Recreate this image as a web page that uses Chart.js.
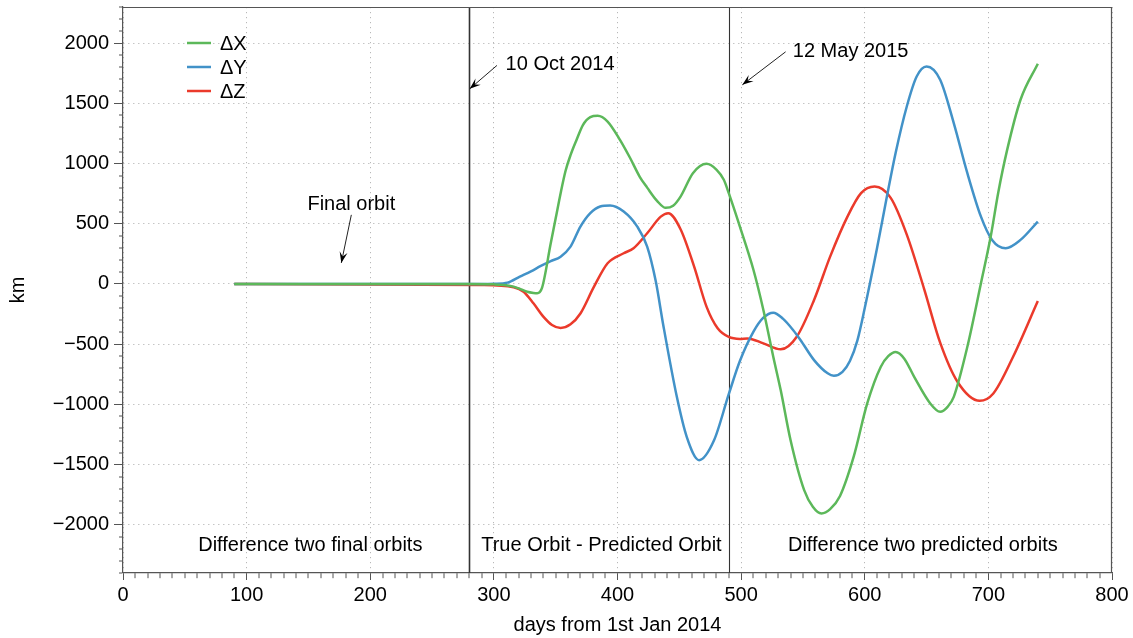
<!DOCTYPE html>
<html>
<head>
<meta charset="utf-8">
<script src="https://cdn.jsdelivr.net/npm/chart.js@4.4.0/dist/chart.umd.min.js"></script>
<style>
  html, body { margin: 0; padding: 0; background: #fff; }
</style>
</head>
<body>
<canvas id="orbitChart" width="1133" height="638"></canvas>
<script>
// days from 1st Jan 2014, values in km
const xDays = [90, 280, 300, 310, 316, 322, 327, 332, 335, 339, 346, 350, 354, 358, 362, 367, 372, 378, 384, 392, 402, 410, 418, 424, 432, 439, 445, 451, 461, 472, 480, 486, 490, 499, 510, 518, 526, 532, 540, 551, 558, 565, 572, 580, 591, 602, 613, 619, 625, 632, 640, 653, 661, 667, 672, 683, 694, 702, 708, 715, 726, 740];
const xKm = [0, 0, -3, -10, -22, -45, -64, -74, -77, -30, 338, 545, 754, 940, 1070, 1200, 1320, 1386, 1397, 1349, 1197, 1050, 890, 800, 690, 632, 650, 726, 920, 998, 950, 865, 754, 476, 116, -216, -604, -881, -1297, -1712, -1850, -1906, -1870, -1760, -1436, -992, -687, -600, -565, -620, -771, -992, -1061, -1020, -937, -521, 6, 400, 760, 1105, 1530, 1829];

const yDays = [90, 290, 300, 311, 321, 330, 338, 346, 354, 362, 370, 378, 386, 394, 405, 416, 424, 431, 437, 448, 456, 466, 478, 490, 499, 510, 518, 526, 534, 542, 548, 559, 570, 575, 582, 588, 594, 600, 610, 618, 625, 634, 642, 650, 661, 672, 683, 694, 703, 714, 726, 740];
const yKm = [0, 0, 2, 11, 61, 105, 150, 190, 227, 310, 476, 588, 643, 651, 601, 476, 310, 20, -340, -937, -1269, -1463, -1300, -915, -640, -396, -280, -238, -290, -382, -465, -632, -742, -762, -730, -640, -470, -200, 300, 730, 1090, 1474, 1723, 1806, 1696, 1336, 920, 559, 366, 297, 366, 518];

const zDays = [90, 290, 316, 324, 332, 340, 347, 354, 362, 370, 381, 392, 405, 413, 424, 435, 441, 451, 462, 472, 481, 490, 499, 505, 518, 532, 545, 559, 572, 586, 597, 608, 621, 634, 648, 661, 675, 693, 704, 720, 740];
const zKm = [0, -8, -27, -64, -160, -271, -340, -365, -335, -245, -22, 172, 255, 297, 421, 559, 588, 455, 144, -188, -368, -440, -456, -452, -493, -543, -438, -133, 227, 559, 754, 809, 715, 410, -40, -487, -812, -970, -909, -604, -141];

const seriesLabels = ['ΔX', 'ΔY', 'ΔZ'];
const seriesColors = ['#5cb85a', '#4292c8', '#eb3a2b'];

const markerDays = [280, 490]; // 10 Oct 2014, 12 May 2015
const xTickLabels = [0, 100, 200, 300, 400, 500, 600, 700, 800];
const yTickLabels = [-2000, -1500, -1000, -500, 0, 500, 1000, 1500, 2000];

const FONT = "'Liberation Sans', Arial, Helvetica, sans-serif";

function pts(days, vals) {
    return days.map((d, i) => ({ x: d, y: vals[i] }));
}

function fmt(v) {
    return String(v).replace('-', '\u2212');
}

function arrow(ctx, x1, y1, x2, y2) {
    ctx.beginPath();
    ctx.moveTo(x1, y1);
    ctx.lineTo(x2, y2);
    ctx.stroke();
    const a = Math.atan2(y2 - y1, x2 - x1);
    const len = 11, w = 4;
    const c = Math.cos(a), s = Math.sin(a);
    ctx.beginPath();
    ctx.moveTo(x2, y2);
    ctx.lineTo(x2 - len * c + w * s, y2 - len * s - w * c);
    ctx.lineTo(x2 - 0.6 * len * c, y2 - 0.6 * len * s);
    ctx.lineTo(x2 - len * c - w * s, y2 - len * s + w * c);
    ctx.closePath();
    ctx.fill();
}

// frame, marker lines, legend, notes
const decorations = {
    id: 'decorations',
    beforeDatasetsDraw(chart) {
        const { ctx, chartArea: a, scales: { x } } = chart;
        ctx.save();
        ctx.strokeStyle = '#333';
        markerDays.forEach((d, i) => {
            ctx.lineWidth = i === 0 ? 1.6 : 1.1;
            const px = Math.round(x.getPixelForValue(d)) + 0.5;
            ctx.beginPath();
            ctx.moveTo(px, a.top);
            ctx.lineTo(px, a.bottom);
            ctx.stroke();
        });
        ctx.restore();
    },
    afterDraw(chart) {
        const { ctx, chartArea: a, scales: { x, y } } = chart;
        const X = v => x.getPixelForValue(v);
        const Y = v => y.getPixelForValue(v);
        ctx.save();

        // box
        ctx.strokeStyle = '#555';
        ctx.lineWidth = 1.2;
        ctx.beginPath();
        ctx.moveTo(a.left, a.top + 0.5);
        ctx.lineTo(a.right - 0.5, a.top + 0.5);
        ctx.lineTo(a.right - 0.5, a.bottom);
        ctx.stroke();

        // legend
        ctx.font = '20px ' + FONT;
        ctx.textBaseline = 'middle';
        ctx.textAlign = 'left';
        chart.data.datasets.forEach((ds, i) => {
            const ly = a.top + 36 + i * 24;
            ctx.strokeStyle = ds.borderColor;
            ctx.lineWidth = 2.5;
            ctx.beginPath();
            ctx.moveTo(a.left + 64, ly);
            ctx.lineTo(a.left + 88, ly);
            ctx.stroke();
            ctx.fillStyle = '#000';
            ctx.fillText(ds.label, a.left + 97, ly + 1);
        });

        // notes and arrows
        ctx.fillStyle = '#000';
        ctx.strokeStyle = '#222';
        ctx.lineWidth = 1;
        ctx.fillText('10 Oct 2014', X(309.5), Y(1820));
        arrow(ctx, X(302.5), Y(1815), X(280.5), Y(1621));
        ctx.fillText('12 May 2015', X(541.8), Y(1928));
        arrow(ctx, X(536), Y(1928), X(501), Y(1654));
        ctx.textAlign = 'center';
        ctx.fillText('Final orbit', X(184.7), Y(657));
        arrow(ctx, X(184.7), Y(574), X(176.6), Y(175));

        ctx.fillText('Difference two final orbits', X(151.5), Y(-2170));
        ctx.fillText('True Orbit - Predicted Orbit', X(387), Y(-2170));
        ctx.fillText('Difference two predicted orbits', X(647), Y(-2170));
        ctx.restore();
    }
};

const ctx = document.getElementById('orbitChart').getContext('2d');
new Chart(ctx, {
    type: 'line',
    data: {
        datasets: [
            { label: seriesLabels[0], data: pts(xDays, xKm), borderColor: seriesColors[0] },
            { label: seriesLabels[1], data: pts(yDays, yKm), borderColor: seriesColors[1] },
            { label: seriesLabels[2], data: pts(zDays, zKm), borderColor: seriesColors[2] }
        ]
    },
    options: {
        responsive: false,
        animation: false,
        devicePixelRatio: 1,
        layout: { padding: { left: 0, top: 7, right: 21, bottom: 0 } },
        elements: {
            point: { radius: 0 },
            line: { borderWidth: 2.5, fill: false, cubicInterpolationMode: 'monotone' }
        },
        plugins: {
            legend: { display: false },
            tooltip: { enabled: false }
        },
        scales: {
            x: {
                type: 'linear',
                min: 0,
                max: 800,
                afterBuildTicks(scale) {
                    const t = [];
                    for (let v = 0; v <= 800; v += 10) t.push({ value: v });
                    scale.ticks = t;
                },
                afterFit(scale) { scale.height = 65; },
                ticks: {
                    autoSkip: false,
                    maxRotation: 0,
                    padding: 3,
                    color: '#000',
                    font: { family: FONT, size: 20 },
                    callback: v => xTickLabels.includes(v) ? fmt(v) : ''
                },
                grid: {
                    color: '#b8b8b8',
                    lineWidth: c => (c.tick && c.tick.value % 100 === 0) ? 1 : 0,
                    tickLength: 7,
                    tickColor: '#555',
                    tickWidth: 1,
                    tickBorderDash: c => (c.tick && c.tick.value % 100 === 0) ? [] : [5, 10]
                },
                border: { color: '#555', width: 1.2, dash: [1.2, 3.8] },
                title: {
                    display: true,
                    text: 'days from 1st Jan 2014',
                    color: '#000',
                    font: { family: FONT, size: 20 },
                    padding: { top: 2, bottom: 1 }
                }
            },
            y: {
                min: -2400,
                max: 2300,
                afterBuildTicks(scale) {
                    const t = [];
                    for (let v = -2400; v <= 2300; v += 100) t.push({ value: v });
                    scale.ticks = t;
                },
                afterFit(scale) {
                    scale.width = 123;
                    scale.paddingTop = 0;
                    scale.paddingBottom = 0;
                },
                ticks: {
                    autoSkip: false,
                    padding: 5,
                    color: '#000',
                    font: { family: FONT, size: 20 },
                    callback: v => yTickLabels.includes(v) ? fmt(v) : ''
                },
                grid: {
                    color: '#b8b8b8',
                    lineWidth: c => (c.tick && c.tick.value % 500 === 0) ? 1 : 0,
                    tickLength: 9,
                    tickColor: '#555',
                    tickWidth: 1,
                    tickBorderDash: c => (c.tick && c.tick.value % 500 === 0) ? [] : [0, 5, 4, 5]
                },
                border: { color: '#555', width: 1.2, dash: [1.2, 3.8] },
                title: {
                    display: true,
                    text: 'km',
                    color: '#000',
                    font: { family: FONT, size: 20 },
                    padding: { top: 6, bottom: 0 }
                }
            }
        }
    },
    plugins: [decorations]
});
</script>
</body>
</html>
